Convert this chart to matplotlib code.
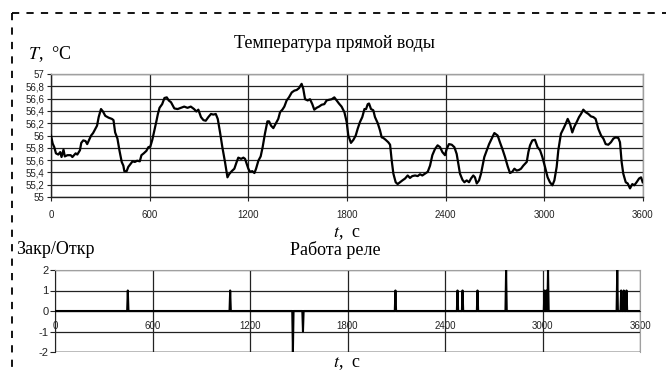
import numpy as np
import matplotlib
matplotlib.use("Agg")
import matplotlib.pyplot as plt
from matplotlib.ticker import FuncFormatter, MultipleLocator
from matplotlib.lines import Line2D

# температура прямой воды (с, °C)
t_temp = [0, 10, 20, 30, 44, 56, 64, 76, 84, 100, 120, 130, 150, 160, 176, 184, 196, 210, 220, 230,
          244, 256, 270, 280, 290, 304, 316, 330, 350, 370, 380, 390, 404, 416, 430, 440, 446, 460,
          470, 484, 496, 510, 524, 540, 550, 564, 580, 592, 604, 616, 626, 640, 650, 660, 676, 690,
          704, 716, 730, 750, 770, 790, 810, 830, 850, 870, 884, 896, 912, 927, 941, 957, 973, 987,
          1002, 1014, 1028, 1042, 1058, 1073, 1083, 1099, 1115, 1129, 1139, 1156, 1170, 1180, 1190,
          1200, 1210, 1224, 1237, 1247, 1261, 1275, 1287, 1301, 1316, 1326, 1338, 1352, 1366, 1382,
          1393, 1407, 1419, 1433, 1447, 1464, 1480, 1494, 1508, 1524, 1534, 1545, 1561, 1575, 1589,
          1601, 1615, 1630, 1646, 1662, 1676, 1690, 1707, 1723, 1737, 1751, 1767, 1784, 1798, 1808,
          1824, 1839, 1853, 1865, 1879, 1893, 1906, 1916, 1926, 1934, 1946, 1960, 1970, 1987, 2001,
          2011, 2021, 2035, 2051, 2062, 2072, 2082, 2096, 2108, 2122, 2137, 2153, 2169, 2183, 2197,
          2214, 2230, 2244, 2258, 2274, 2291, 2305, 2319, 2335, 2351, 2366, 2380, 2396, 2406, 2420,
          2437, 2453, 2467, 2477, 2487, 2502, 2514, 2528, 2542, 2554, 2568, 2578, 2589, 2603, 2615,
          2623, 2635, 2650, 2664, 2680, 2696, 2716, 2730, 2745, 2761, 2777, 2791, 2805, 2818, 2832,
          2846, 2858, 2872, 2893, 2903, 2913, 2927, 2943, 2959, 2974, 2988, 3004, 3020, 3034, 3049,
          3061, 3075, 3085, 3101, 3116, 3130, 3142, 3156, 3170, 3182, 3197, 3211, 3223, 3237, 3251,
          3268, 3284, 3298, 3312, 3328, 3345, 3359, 3373, 3389, 3405, 3420, 3434, 3450, 3460, 3470,
          3480, 3495, 3507, 3521, 3535, 3547, 3561, 3576, 3588, 3598]
temp = [56.00, 55.87, 55.81, 55.71, 55.69, 55.73, 55.65, 55.77, 55.66, 55.68, 55.68, 55.65, 55.71,
        55.69, 55.76, 55.88, 55.92, 55.91, 55.86, 55.92, 56.00, 56.04, 56.11, 56.16, 56.30, 56.43,
        56.39, 56.32, 56.29, 56.27, 56.25, 56.05, 55.95, 55.76, 55.57, 55.51, 55.42, 55.42, 55.49,
        55.54, 55.58, 55.57, 55.59, 55.58, 55.68, 55.71, 55.75, 55.81, 55.82, 55.93, 56.05, 56.22,
        56.35, 56.45, 56.51, 56.61, 56.62, 56.57, 56.54, 56.44, 56.43, 56.45, 56.47, 56.45, 56.47,
        56.43, 56.39, 56.42, 56.30, 56.25, 56.24, 56.30, 56.35, 56.34, 56.35, 56.27, 56.05, 55.81,
        55.57, 55.32, 55.37, 55.42, 55.46, 55.57, 55.64, 55.62, 55.64, 55.62, 55.54, 55.46, 55.41,
        55.42, 55.39, 55.46, 55.59, 55.66, 55.81, 56.03, 56.23, 56.23, 56.16, 56.12, 56.19, 56.27,
        56.38, 56.42, 56.47, 56.57, 56.62, 56.70, 56.73, 56.74, 56.77, 56.84, 56.76, 56.59, 56.57,
        56.59, 56.51, 56.42, 56.45, 56.47, 56.50, 56.51, 56.57, 56.58, 56.59, 56.62, 56.57, 56.52,
        56.47, 56.38, 56.22, 56.00, 55.88, 55.93, 56.00, 56.11, 56.22, 56.30, 56.43, 56.43, 56.51,
        56.52, 56.43, 56.41, 56.30, 56.20, 56.08, 55.97, 55.96, 55.93, 55.89, 55.85, 55.59, 55.38,
        55.24, 55.21, 55.24, 55.27, 55.30, 55.35, 55.31, 55.34, 55.35, 55.34, 55.37, 55.35, 55.38,
        55.41, 55.51, 55.68, 55.78, 55.84, 55.81, 55.73, 55.68, 55.78, 55.86, 55.85, 55.81, 55.70,
        55.54, 55.38, 55.28, 55.24, 55.27, 55.24, 55.30, 55.35, 55.32, 55.22, 55.27, 55.38, 55.49,
        55.65, 55.76, 55.86, 55.95, 56.04, 56.00, 55.89, 55.78, 55.65, 55.50, 55.39, 55.41, 55.46,
        55.43, 55.44, 55.46, 55.51, 55.57, 55.73, 55.84, 55.92, 55.93, 55.81, 55.76, 55.65, 55.49,
        55.32, 55.24, 55.19, 55.27, 55.49, 55.76, 56.03, 56.11, 56.19, 56.27, 56.19, 56.05, 56.14,
        56.22, 56.30, 56.35, 56.42, 56.38, 56.35, 56.31, 56.30, 56.27, 56.11, 56.00, 55.95, 55.86,
        55.85, 55.89, 55.95, 55.97, 55.96, 55.89, 55.57, 55.38, 55.24, 55.22, 55.14, 55.21, 55.19,
        55.24, 55.30, 55.32, 55.24]

# срабатывания реле: время (с) и уровень
relay_t = [448, 1078, 1464, 1526, 2095, 2477, 2508, 2600, 2776, 3012, 3024, 3034, 3460, 3484, 3500, 3517]
relay_v = [1, 1, -2, -1, 1, 1, 1, 1, 2, 1, 1, 2, 2, 1, 1, 1]
half_w = 4  # полуширина импульса, с

x_ticks = [0, 600, 1200, 1800, 2400, 3000, 3600]

# собрать ряд реле с узкими импульсами
rt = [0]
rv = [0]
for tt, vv in zip(relay_t, relay_v):
    rt += [tt - half_w, tt, tt + half_w]
    rv += [0, vv, 0]
rt.append(3600)
rv.append(0)

plt.rcParams['font.family'] = ['Liberation Sans', 'DejaVu Sans']
plt.rcParams['mathtext.fontset'] = 'stix'
plt.rcParams['axes.unicode_minus'] = False
serif = ['Liberation Serif', 'DejaVu Serif']

fig = plt.figure(figsize=(6.66, 3.73), dpi=100)

dark = '#222222'
light = '#a0a0a0'

# ---- верхний график
ax = fig.add_axes([51 / 666, 176 / 373, 592 / 666, 123 / 373])
ax.plot(t_temp, temp, color='black', lw=1.6, zorder=3)
ax.set_xlim(0, 3600)
ax.set_ylim(55, 57)
ax.set_xticks(x_ticks)
ax.yaxis.set_major_locator(MultipleLocator(0.2))
ax.yaxis.set_major_formatter(FuncFormatter(lambda v, p: ('%g' % round(v, 1)).replace('.', ',')))
ax.grid(True, color=dark, lw=0.9)
for s in ['left', 'bottom']:
    ax.spines[s].set_color(dark)
    ax.spines[s].set_linewidth(1.0)
for s in ['top', 'right']:
    ax.spines[s].set_color(light)
    ax.spines[s].set_linewidth(1.0)
ax.tick_params(axis='y', length=3, width=0.8, pad=1.5, labelsize=7, colors=dark)
ax.tick_params(axis='x', length=3, width=0.8, pad=6, labelsize=7, colors=dark)
ax.set_axisbelow(True)

fig.text(334 / 666, 1 - 44 / 373, 'Температура прямой воды', family=serif, fontsize=13,
         ha='center', va='center')
fig.text(28 / 666, 1 - 54 / 373, '$T$,  °C', family=serif, fontsize=13, ha='left', va='center')
fig.text(347 / 666, 1 - 233 / 373, '$t$,  c', family=serif, fontsize=13, ha='center', va='center')

# ---- нижний график
ax2 = fig.add_axes([55 / 666, 21 / 373, 585 / 666, 82 / 373])
ax2.plot(rt, rv, color='black', lw=1.5, zorder=3)
ax2.set_xlim(0, 3600)
ax2.set_ylim(-2, 2)
ax2.set_xticks(x_ticks)
ax2.set_yticks([-2, -1, 0, 1, 2])
ax2.grid(True, color=dark, lw=0.9)
ax2.spines['bottom'].set_position(('data', 0))
ax2.spines['bottom'].set_color(dark)
ax2.spines['left'].set_color(dark)
ax2.spines['top'].set_color(light)
ax2.spines['right'].set_color(light)
ax2.axhline(-2, color=dark, lw=1.0, zorder=2)
ax2.tick_params(axis='x', length=0, pad=7, labelsize=7, colors=dark)
ax2.tick_params(axis='y', length=3.5, width=0.8, pad=1, labelsize=8, colors=dark)
ax2.set_axisbelow(True)

fig.text(16 / 666, 1 - 249 / 373, 'Закр/Откр', family=serif, fontsize=13, ha='left', va='center')
fig.text(335 / 666, 1 - 250 / 373, 'Работа реле', family=serif, fontsize=13, ha='center', va='center')
fig.text(347 / 666, 1 - 364 / 373, '$t$,  c', family=serif, fontsize=13, ha='center', va='center')

# пунктирная рамка
fig.add_artist(Line2D([12 / 666, 1], [1 - 13 / 373, 1 - 13 / 373], color='black', lw=1.3,
                      dashes=(4, 4), transform=fig.transFigure))
fig.add_artist(Line2D([12 / 666, 12 / 666], [1 - 13 / 373, 0], color='black', lw=1.3,
                      dashes=(4, 4), transform=fig.transFigure))

fig.savefig('out.png', dpi=100)
